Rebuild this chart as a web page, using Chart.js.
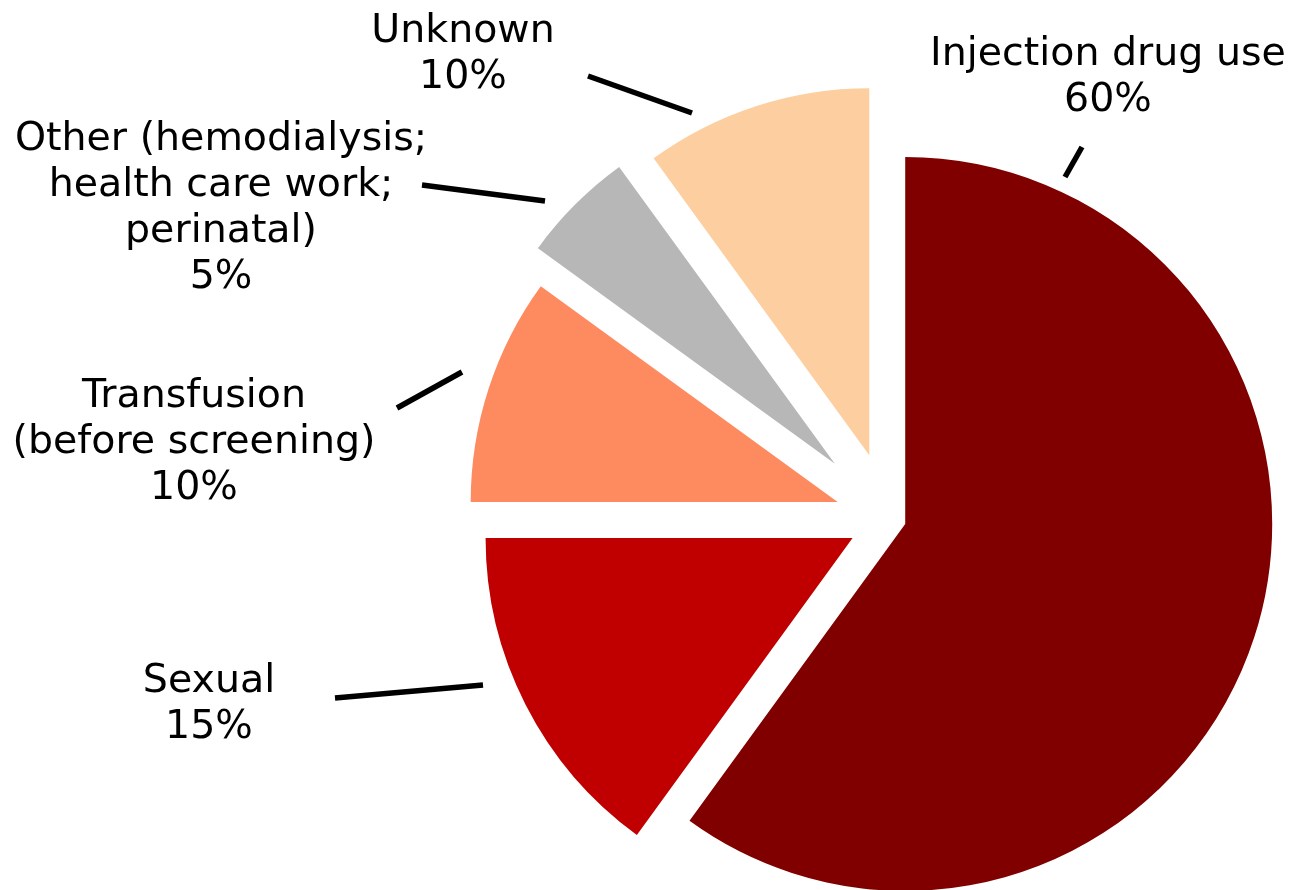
<!DOCTYPE html>
<html>
<head>
<meta charset="utf-8">
<script src="https://cdn.jsdelivr.net/npm/chart.js@4/dist/chart.umd.min.js"></script>
<style>
  html, body { margin: 0; padding: 0; background: #fff; }
  #wrap { width: 1294px; height: 890px; position: relative; }
</style>
</head>
<body>
<div id="wrap"><canvas id="pie"></canvas></div>
<script>
// ── Data ──────────────────────────────────────────────
const categories = [
  ['Injection drug use'],
  ['Sexual'],
  ['Transfusion', '(before screening)'],
  ['Other (hemodialysis;', 'health care work;', 'perinatal)'],
  ['Unknown'],
];
const shares = [60, 15, 10, 5, 10];   // percent

// ── Style ─────────────────────────────────────────────
const sliceColors = ['#800000', '#c00000', '#fd8b5f', '#b7b7b7', '#fdcfa0'];
const explode     = [16, 42, 55, 78, 67];   // px pulled out along each slice's mid-angle

// label placement, relative to the pie centre: text anchor + leader line
const labelLayout = [
  { text: [218, -454],  line: [[175, -342], [192, -372]] },
  { text: [-681, 173],  line: [[-407, 166], [-555, 179]] },
  { text: [-696, -112], line: [[-428, -147], [-493, -111]] },
  { text: [-669, -369], line: [[-345, -318], [-468, -334]] },
  { text: [-427, -477], line: [[-198, -406], [-302, -443]] },
];

const FONT = '39.5px "DejaVu Sans", Verdana, sans-serif';
const LINE_H = 46;

// draw each arc shifted outward (keeps radius + angle intact)
const explodedSlices = {
  id: 'explodedSlices',
  beforeDatasetDraw(chart, args) {
    const ctx = chart.ctx;
    args.meta.data.forEach((arc, i) => {
      const mid = (arc.startAngle + arc.endAngle) / 2;
      ctx.save();
      ctx.translate(Math.cos(mid) * explode[i], Math.sin(mid) * explode[i]);
      arc.draw(ctx);
      ctx.restore();
    });
    return false;
  }
};

const sliceLabels = {
  id: 'sliceLabels',
  afterDatasetsDraw(chart) {
    const ctx  = chart.ctx;
    const meta = chart.getDatasetMeta(0);
    const cx = meta.data[0].x, cy = meta.data[0].y;

    ctx.save();
    ctx.strokeStyle = '#000';
    ctx.lineWidth = 5.5;
    labelLayout.forEach(l => {
      ctx.beginPath();
      ctx.moveTo(cx + l.line[0][0], cy + l.line[0][1]);
      ctx.lineTo(cx + l.line[1][0], cy + l.line[1][1]);
      ctx.stroke();
    });

    ctx.fillStyle = '#000';
    ctx.font = FONT;
    ctx.textAlign = 'center';
    ctx.textBaseline = 'alphabetic';
    categories.forEach((lines, i) => {
      const l = labelLayout[i];
      const rows = lines.concat([shares[i] + '%']);
      rows.forEach((row, k) => {
        ctx.fillText(row, cx + l.text[0], cy + l.text[1] + k * LINE_H);
      });
    });
    ctx.restore();
  }
};

new Chart(document.getElementById('pie'), {
  type: 'pie',
  data: {
    labels: categories,
    datasets: [{
      data: shares,
      backgroundColor: sliceColors,
      borderWidth: 0,
      radius: 367,
      clip: false,
    }],
  },
  options: {
    responsive: true,
    maintainAspectRatio: false,
    animation: false,
    events: [],
    layout: { padding: { left: 486, top: 148, right: 0, bottom: 0 } },
    plugins: {
      legend: { display: false },
      tooltip: { enabled: false },
    },
  },
  plugins: [explodedSlices, sliceLabels],
});
</script>
</body>
</html>
